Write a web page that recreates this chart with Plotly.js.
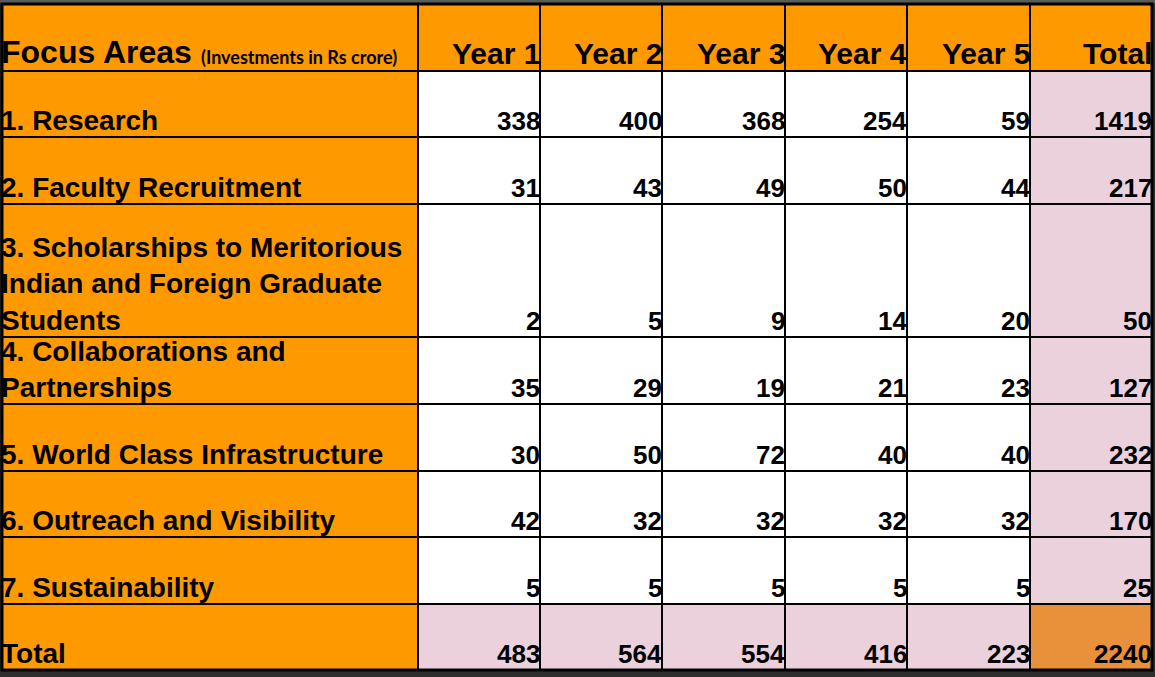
<!DOCTYPE html>
<html>
<head>
<meta charset="utf-8">
<script src="https://cdn.plot.ly/plotly-3.0.1.min.js"></script>
<style>html,body{margin:0;padding:0;background:#2e2e2e;}#chart{width:1155px;height:677px;}</style>
</head>
<body>
<div id="chart"></div>
<script>
// ---- data ----
const headerLabel = "Focus Areas";
const headerNote = "(Investments in Rs crore)";
const years = ["Year 1", "Year 2", "Year 3", "Year 4", "Year 5"];
const totalLabel = "Total";
const categories = [
  "1. Research",
  "2. Faculty Recruitment",
  "3. Scholarships to Meritorious<br>Indian and Foreign Graduate<br>Students",
  "4. Collaborations and<br>Partnerships",
  "5. World Class Infrastructure",
  "6. Outreach and Visibility",
  "7. Sustainability"
];
const year1 = [338, 31, 2, 35, 30, 42, 5];
const year2 = [400, 43, 5, 29, 50, 32, 5];
const year3 = [368, 49, 9, 19, 72, 32, 5];
const year4 = [254, 50, 14, 21, 40, 32, 5];
const year5 = [59, 44, 20, 23, 40, 32, 5];
const rowTotals = [1419, 217, 50, 127, 232, 170, 25];
const colTotals = [483, 564, 554, 416, 223];
const grandTotal = 2240;

// ---- layout geometry (grid in axis units = pixels) ----
const colEdges = [2, 418, 540, 662, 785, 907, 1030, 1152];
const rowEdges = [4, 71, 137, 204, 337, 404, 471, 537, 604, 670];
const noteX = 201;

const ORANGE = "#FF9900", PINK = "#EAD1DC", DARKOR = "#E8913A", WHITE = "#FFFFFF";
const FONT = "Liberation Sans, Arial, sans-serif";

const series = [year1, year2, year3, year4, year5];
const nRows = rowEdges.length - 1;   // header + 7 + total
const nCols = colEdges.length - 1;   // label + 5 + total

// build table text grid
const grid = [];
grid.push([headerLabel].concat(years).concat([totalLabel]));
categories.forEach((cat, i) => {
  grid.push([cat].concat(series.map(s => String(s[i]))).concat([String(rowTotals[i])]));
});
grid.push([totalLabel].concat(colTotals.map(String)).concat([String(grandTotal)]));

function fillFor(r, c) {
  if (r === 0 || c === 0) return ORANGE;
  if (r === nRows - 1 && c === nCols - 1) return DARKOR;
  if (r === nRows - 1 || c === nCols - 1) return PINK;
  return WHITE;
}

const shapes = [];
// top lighter strip
shapes.push({type: "rect", xref: "paper", yref: "y", x0: 0, x1: 1, y0: 0, y1: 3.5,
  fillcolor: "#5a5a5a", line: {width: 0}, layer: "below"});
for (let r = 0; r < nRows; r++) {
  for (let c = 0; c < nCols; c++) {
    shapes.push({type: "rect", xref: "x", yref: "y",
      x0: colEdges[c], x1: colEdges[c + 1], y0: rowEdges[r], y1: rowEdges[r + 1],
      fillcolor: fillFor(r, c), line: {color: "#000", width: 2}});
  }
}
shapes.push({type: "rect", xref: "x", yref: "y",
  x0: colEdges[0], x1: colEdges[nCols], y0: rowEdges[0], y1: rowEdges[nRows],
  fillcolor: "rgba(0,0,0,0)", line: {color: "#000", width: 3}});

const annotations = [];
for (let r = 0; r < nRows; r++) {
  for (let c = 0; c < nCols; c++) {
    const txt = grid[r][c];
    let size;
    if (r === 0) size = (c === 0) ? 32 : 30;
    else size = (c === 0) ? 28 : 26;
    const left = c === 0;
    annotations.push({
      xref: "x", yref: "y",
      x: left ? colEdges[c] - 1 : colEdges[c + 1] - 0.5,
      y: rowEdges[r + 1] - 1,
      xanchor: left ? "left" : "right",
      yanchor: "bottom",
      align: "left",
      text: txt,
      showarrow: false,
      borderpad: 0, borderwidth: 0,
      font: {family: FONT, size: size, color: "#000", weight: "bold"}
    });
  }
}
annotations.push({
  xref: "x", yref: "y", x: noteX, y: rowEdges[1] - 3,
  xanchor: "left", yanchor: "bottom", text: headerNote, showarrow: false,
  borderpad: 0, borderwidth: 0,
  font: {family: "Lato, Open Sans, sans-serif", size: 18, color: "#000", weight: "bold"}
});

const layout = {
  width: 1155, height: 677,
  margin: {l: 0, r: 0, t: 0, b: 0, pad: 0},
  paper_bgcolor: "#2e2e2e", plot_bgcolor: "#2e2e2e",
  xaxis: {range: [0, 1155], visible: false, fixedrange: true},
  yaxis: {range: [677, 0], visible: false, fixedrange: true},
  shapes: shapes,
  annotations: annotations,
  showlegend: false
};

Plotly.newPlot("chart", [{type: "scatter", x: [], y: [], hoverinfo: "skip"}], layout,
  {displayModeBar: false, staticPlot: true});
</script>
</body>
</html>
